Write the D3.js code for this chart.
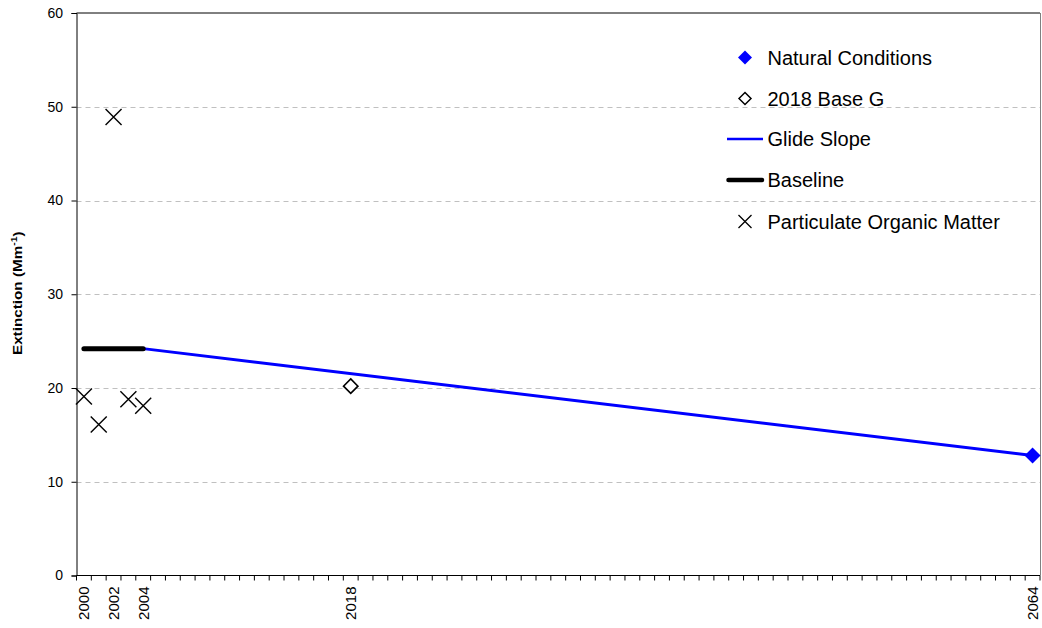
<!DOCTYPE html>
<html>
<head>
<meta charset="utf-8">
<script src="https://cdn.jsdelivr.net/npm/d3@7"></script>
<style>
  body { margin: 0; background: #fff; }
  svg { display: block; font-family: "Liberation Sans", Arial, sans-serif; }
</style>
</head>
<body>
<svg id="chart" width="1042" height="628"></svg>
<script>
// ---- data ----
const years = d3.range(2000, 2065);              // category axis 2000..2064
const labeledYears = [2000, 2002, 2004, 2018, 2064];
const yTicks = [0, 10, 20, 30, 40, 50, 60];

const pomYears = [2000, 2001, 2002, 2003, 2004];
const pomValues = [19.1, 16.1, 48.9, 18.8, 18.1];

const baselineYears = [2000, 2004];
const baselineValues = [24.2, 24.2];

const glideYears = [2004, 2064];
const glideValues = [24.2, 12.8];

const base2018Years = [2018];
const base2018Values = [20.2];

const naturalYears = [2064];
const naturalValues = [12.8];

const legendLabels = ["Natural Conditions", "2018 Base G", "Glide Slope", "Baseline", "Particulate Organic Matter"];

// ---- layout ----
const pL = 76.5, pR = 1040, pT = 13, pB = 575.5;
const svg = d3.select("#chart");

const x = d3.scaleBand().domain(years).range([pL, pR]).paddingInner(0).paddingOuter(0);
const xc = yr => x(yr) + x.bandwidth() / 2;
const y = d3.scaleLinear().domain([0, 60]).range([pB, pT]);

// gridlines
svg.append("g").selectAll("line")
  .data(yTicks.filter(t => t > 0 && t < 60))
  .join("line")
  .attr("x1", pL).attr("x2", pR)
  .attr("y1", d => Math.round(y(d)) + 0.5).attr("y2", d => Math.round(y(d)) + 0.5)
  .attr("stroke", "#c0c0c0").attr("stroke-dasharray", "5,4");

// top border
svg.append("line").attr("x1", pL).attr("x2", pR).attr("y1", pT).attr("y2", pT)
  .attr("stroke", "#000");
// right frame
svg.append("line").attr("x1", pR + 0.5).attr("x2", pR + 0.5).attr("y1", pT).attr("y2", pB)
  .attr("stroke", "#808080");

// y axis
const yAxis = d3.axisLeft(y).tickValues(yTicks).tickSize(5).tickPadding(8.5);
const gy = svg.append("g").attr("transform", `translate(${pL},0)`).call(yAxis);
gy.select(".domain").attr("stroke", "#000");
gy.selectAll("text").attr("font-size", 14).attr("fill", "#000")
  .attr("font-family", "Liberation Sans, Arial, sans-serif");

// x axis: ticks at band boundaries
const gx = svg.append("g").attr("transform", `translate(0,${pB})`);
gx.append("line").attr("x1", pL).attr("x2", pR).attr("stroke", "#000");
gx.selectAll("line.tk").data(years.concat([2065])).join("line").attr("class", "tk")
  .attr("x1", d => d === 2065 ? pR : x(d)).attr("x2", d => d === 2065 ? pR : x(d))
  .attr("y1", 0).attr("y2", 5).attr("stroke", "#000");
gx.selectAll("text").data(labeledYears).join("text")
  .attr("transform", d => `translate(${xc(d) + 5.5},11) rotate(-90)`)
  .attr("text-anchor", "end")
  .attr("font-size", 15)
  .text(d => d);

// y label
svg.append("text")
  .attr("transform", `translate(22,${(pT + pB) / 2 - 1}) rotate(-90) scale(1.22,1)`)
  .attr("text-anchor", "middle")
  .attr("font-size", 12.5).attr("font-weight", "bold")
  .html('Extinction (Mm<tspan dy="-5" font-size="8.5">-1</tspan><tspan dy="5">)</tspan>');

// glide slope
const line = d3.line().x(d => xc(d[0])).y(d => y(d[1]));
svg.append("path").datum(d3.zip(glideYears, glideValues)).attr("d", line)
  .attr("fill", "none").attr("stroke", "#0000ff").attr("stroke-width", 3);
// baseline
svg.append("path").datum(d3.zip(baselineYears, baselineValues)).attr("d", line)
  .attr("fill", "none").attr("stroke", "#000").attr("stroke-width", 5).attr("stroke-linecap", "round");

// X markers
const xPath = s => `M${-s},${-s}L${s},${s}M${-s},${s}L${s},${-s}`;
svg.append("g").selectAll("path").data(d3.zip(pomYears, pomValues)).join("path")
  .attr("transform", d => `translate(${xc(d[0])},${y(d[1])})`)
  .attr("d", xPath(8))
  .attr("fill", "none").attr("stroke", "#000").attr("stroke-width", 1.4);

// 2018 Base G
const diamond = (cx, cy, r) => `M${cx},${cy - r}L${cx + r},${cy}L${cx},${cy + r}L${cx - r},${cy}Z`;
svg.append("g").selectAll("path").data(d3.zip(base2018Years, base2018Values)).join("path")
  .attr("d", d => diamond(xc(d[0]), y(d[1]), 7.2))
  .attr("fill", "#fff").attr("stroke", "#000").attr("stroke-width", 1.6);

// natural conditions
svg.append("g").selectAll("path").data(d3.zip(naturalYears, naturalValues)).join("path")
  .attr("d", d => diamond(xc(d[0]), y(d[1]), 8))
  .attr("fill", "#0000ff");

// legend
const lg = svg.append("g");
const rowY = [57.5, 98.5, 139, 180, 221.5];
const symX = 745, textX = 767.5;
lg.append("path").attr("d", diamond(symX, rowY[0], 7)).attr("fill", "#0000ff");
lg.append("path").attr("d", diamond(symX, rowY[1], 6)).attr("fill", "#fff").attr("stroke", "#000").attr("stroke-width", 1.5);
lg.append("line").attr("x1", 727).attr("x2", 763).attr("y1", rowY[2]).attr("y2", rowY[2])
  .attr("stroke", "#0000ff").attr("stroke-width", 2.5);
lg.append("line").attr("x1", 728.5).attr("x2", 762).attr("y1", rowY[3]).attr("y2", rowY[3])
  .attr("stroke", "#000").attr("stroke-width", 4.5).attr("stroke-linecap", "round");
lg.append("path").attr("transform", `translate(${symX},${rowY[4]})`)
  .attr("d", xPath(6.5))
  .attr("fill", "none").attr("stroke", "#000").attr("stroke-width", 1.3);
lg.selectAll("text").data(legendLabels).join("text")
  .attr("x", textX)
  .attr("y", (d, i) => rowY[i])
  .attr("dy", "0.35em")
  .attr("font-size", 20)
  .text(d => d);
</script>
</body>
</html>
